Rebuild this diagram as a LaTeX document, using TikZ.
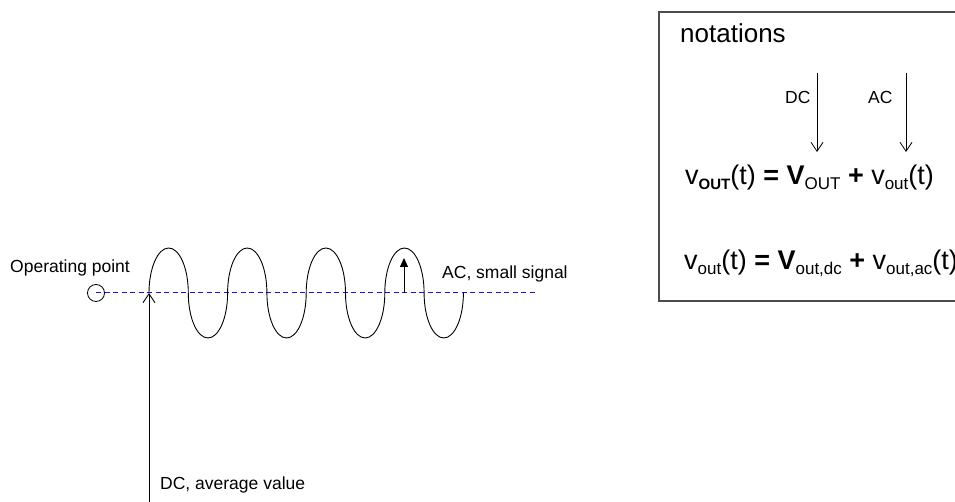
\documentclass[tikz,border=0pt]{standalone}
\usepackage{fontspec}
\setmainfont{Liberation Sans}
\usetikzlibrary{arrows.meta}
\definecolor{dashblue}{RGB}{20,20,230}
\newcommand{\mysub}[1]{\raisebox{-5pt}{\fontsize{17}{17}\selectfont #1}}
\newcommand{\mysubb}[1]{\raisebox{-5pt}{\fontsize{15}{15}\selectfont\bfseries #1}}
\begin{document}
\begin{tikzpicture}[x=1pt,y=1pt,
  lbl/.style={inner sep=0pt,anchor=base west,font=\fontsize{17.5}{21}\selectfont},
  eqn/.style={inner sep=0pt,anchor=base west,font=\fontsize{27}{30}\selectfont},
  title/.style={inner sep=0pt,anchor=base west,font=\fontsize{26}{30}\selectfont},
  wave/.style={line width=0.9pt},
  openarrow/.style={line width=0.9pt,-{Straight Barb[length=9pt,width=12pt]}},
  fillarrow/.style={line width=0.9pt,-{Triangle[length=9pt,width=8pt]}}]
\useasboundingbox (0,0) rectangle (955,502);
% left part
\node[lbl] (op) at (10,229) {Operating point};
\node[draw,circle,minimum size=17pt,inner sep=0pt,line width=0.8pt] (c) at (96,209) {};
\coordinate (dashend) at (536,209);
\draw[dashblue,line width=1pt,dash pattern=on 5pt off 3.5pt] (c.center) -- (dashend);
\coordinate (dcbot) at (149,0);
\coordinate (dctop) at (149,209);
\draw[openarrow] (dcbot) -- (dctop);
\node[lbl] (dclbl) at (160,12) {DC, average value};
% wave
\draw[wave] (149,209)
  arc[start angle=180,end angle=0,x radius=19.65,y radius=45]
  arc[start angle=180,end angle=360,x radius=19.65,y radius=45]
  arc[start angle=180,end angle=0,x radius=19.65,y radius=45]
  arc[start angle=180,end angle=360,x radius=19.65,y radius=45]
  arc[start angle=180,end angle=0,x radius=19.65,y radius=45]
  arc[start angle=180,end angle=360,x radius=19.65,y radius=45]
  arc[start angle=180,end angle=0,x radius=19.65,y radius=45]
  arc[start angle=180,end angle=360,x radius=19.65,y radius=45];
\coordinate (acbot) at (404,209);
\coordinate (actop) at (404,244);
\draw[fillarrow] (acbot) -- (actop);
\node[lbl] (aclbl) at (442,223) {AC, small signal};
% notations box
\draw[black!70,line width=1.2pt] (659,201) rectangle (980,490);
\node[title] (not) at (680,459) {notations};
\node[lbl] (dc) at (785,398) {DC};
\node[lbl] (ac) at (868,398) {AC};
\coordinate (dca) at (817,429);
\coordinate (dcb) at (817,350);
\coordinate (aca) at (906,429);
\coordinate (acb) at (906,350);
\draw[openarrow,line width=0.8pt] (dca) -- (dcb);
\draw[openarrow,line width=0.8pt] (aca) -- (acb);
\node[eqn] (eq1) at (685,317) {v\mysubb{OUT}(t) {\bfseries =} {\bfseries V}\mysub{OUT} {\bfseries +} v\mysub{out}(t)};
\node[eqn] (eq2) at (684,232) {v\mysub{out}(t) {\bfseries =} {\bfseries V}\mysub{out,dc} {\bfseries +} v\mysub{out,ac}(t)};
\end{tikzpicture}
\end{document}
